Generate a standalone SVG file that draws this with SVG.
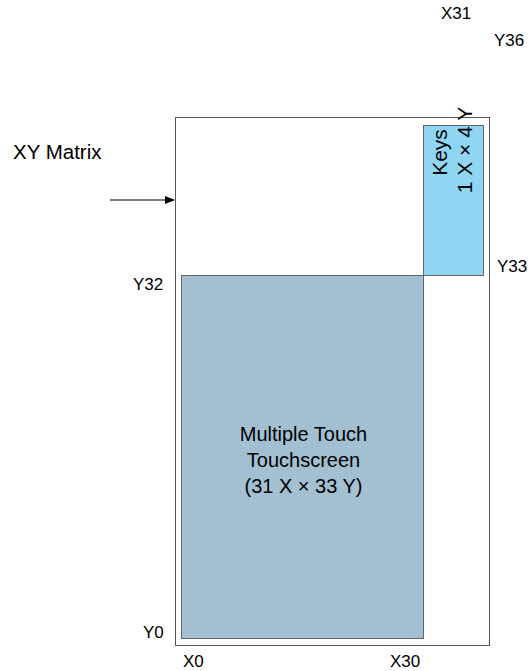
<svg xmlns="http://www.w3.org/2000/svg" width="529" height="671" viewBox="0 0 529 671">
<style>
text{font-family:"Liberation Sans",Arial,sans-serif;font-size:17px;fill:#000}
.c{text-anchor:middle}
.b{font-size:20px}
.k{font-size:21px}
</style>
<defs>
<marker id="ah" markerWidth="10" markerHeight="8" refX="9" refY="4" orient="auto" markerUnits="userSpaceOnUse">
<path d="M0,0 L10,4 L0,8 Z" fill="#000"/>
</marker>
</defs>
<rect width="529" height="671" fill="#fff"/>
<g id="matrix"><rect x="175.5" y="117.5" width="314" height="528" fill="#fff" stroke="#555" stroke-width="1"/></g>
<g id="touchscreen">
<rect x="181.5" y="275.5" width="242" height="363" fill="#a2c0d1" stroke="#666" stroke-width="1"/>
<text class="c b" x="303.5" y="441">Multiple Touch</text>
<text class="c b" x="303.5" y="467">Touchscreen</text>
<text class="c b" x="303.5" y="493">(31 X × 33 Y)</text>
</g>
<g id="keys">
<rect x="423.5" y="125.5" width="60" height="150" fill="#8fd6f3" stroke="#666" stroke-width="1"/>
<text class="c k" transform="translate(447,152.5) rotate(-90)">Keys</text>
<text class="c k" transform="translate(472,150) rotate(-90)">1 X × 4 Y</text>
</g>
<g id="connectors"><line x1="110" y1="200" x2="174" y2="200" stroke="#000" stroke-width="1.2" marker-end="url(#ah)"/></g>
<g id="labels">
<text class="b" x="13" y="159" style="font-size:20.5px">XY Matrix</text>
<text x="133" y="290">Y32</text>
<text x="497" y="272">Y33</text>
<text x="143" y="638">Y0</text>
<text x="183" y="667">X0</text>
<text x="390" y="667">X30</text>
<text x="441" y="19">X31</text>
<text x="494" y="46">Y36</text>
</g>
</svg>
